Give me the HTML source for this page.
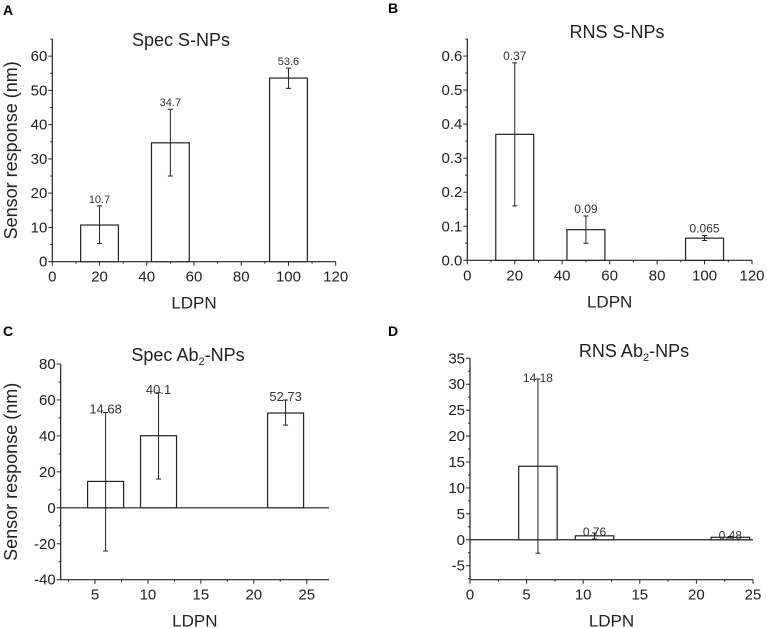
<!DOCTYPE html>
<html><head><meta charset="utf-8"><style>
html,body{margin:0;padding:0;background:#fff;}
svg{display:block;font-family:"Liberation Sans",Arial,sans-serif;}
</style></head><body>
<svg id="fig" width="767" height="628" viewBox="0 0 767 628"></svg>
<script>
// Panel A data
const aCats=[20,50,100];
const aVals=[10.7,34.7,53.6];
const aLo=[5.3,25,50.6];
const aHi=[16.3,44.5,56.5];
const aLabels=["10.7","34.7","53.6"];
const aTicks=[0,10,20,30,40,50,60];
const aXTicks=[0,20,40,60,80,100,120];
// Panel B data
const bCats=[20,50,100];
const bVals=[0.37,0.09,0.065];
const bLo=[0.16,0.05,0.058];
const bHi=[0.58,0.13,0.073];
const bLabels=["0.37","0.09","0.065"];
const bTicks=[0,0.1,0.2,0.3,0.4,0.5,0.6];
const bXTicks=[0,20,40,60,80,100,120];
// Panel C data
const cCats=[6,11,23];
const cVals=[14.68,40.1,52.73];
const cLo=[-24,16,46];
const cHi=[53,64,60];
const cLabels=["14.68","40.1","52.73"];
const cTicks=[-40,-20,0,20,40,60,80];
const cXTicks=[5,10,15,20,25];
// Panel D data
const dCats=[6,11,23];
const dVals=[14.18,0.76,0.48];
const dLo=[-2.6,0.15,0.35];
const dHi=[31,1.3,0.62];
const dLabels=["14.18","0.76","0.48"];
const dTicks=[-5,0,5,10,15,20,25,30,35];
const dXTicks=[0,5,10,15,20,25];

const NS="http://www.w3.org/2000/svg";
const svg=document.getElementById('fig');
function mk(tag,attrs,parent){const e=document.createElementNS(NS,tag);for(const k in attrs)e.setAttribute(k,attrs[k]);(parent||svg).appendChild(e);return e;}

function panel(p){
  const g=mk('g',{});
  
  
  const X=v=>p.x0+(v-p.xmin)/(p.xmax-p.xmin)*(p.x1-p.x0);
  const Y=v=>p.y0-(v-p.ymin)/(p.ymax-p.ymin)*(p.y0-p.y1);
  const st={stroke:'#222','stroke-width':1.2,fill:'none'};
  const ya=mk('line',Object.assign({x1:p.x0,y1:p.y0,x2:p.x0,y2:p.y1},st),g);
  
  const xa=mk('line',Object.assign({x1:p.x0,y1:p.y0,x2:p.x1,y2:p.y0},st),g);
  
  if(p.ymin<0){
    const zl=mk('line',Object.assign({x1:p.x0,y1:Y(0),x2:p.x1,y2:Y(0)},st),g);
    
  }
  const ystep=p.yt[1]-p.yt[0];
  p.yt.forEach((t,i)=>{
    mk('line',{x1:p.x0-4,y1:Y(t),x2:p.x0,y2:Y(t),stroke:'#222','stroke-width':1},g);
    const tx=mk('text',{x:p.x0-5,y:Y(t)+5,'text-anchor':'end','font-size':15,fill:'#222'},g);
    tx.textContent=p.yfmt?p.yfmt(t):String(t);
    
    const m=t+ystep/2;
    if(m<=p.ymax+1e-9) mk('line',{x1:p.x0-2,y1:Y(m),x2:p.x0,y2:Y(m),stroke:'#222','stroke-width':1},g);
    if(i===0){const m2=t-ystep/2;if(m2>=p.ymin-1e-9)mk('line',{x1:p.x0-2,y1:Y(m2),x2:p.x0,y2:Y(m2),stroke:'#222','stroke-width':1},g);}
  });
  const xstep=p.xt[1]-p.xt[0];
  p.xt.forEach((t,i)=>{
    mk('line',{x1:X(t),y1:p.y0,x2:X(t),y2:p.y0+4,stroke:'#222','stroke-width':1},g);
    const tx=mk('text',{x:X(t),y:p.y0+20,'text-anchor':'middle','font-size':15,fill:'#222'},g);
    tx.textContent=String(t);
    
    const m=t+xstep/2;
    if(m<=p.xmax) mk('line',{x1:X(m),y1:p.y0,x2:X(m),y2:p.y0+2,stroke:'#222','stroke-width':1},g);
    if(i===0){const m2=t-xstep/2;if(m2>=p.xmin)mk('line',{x1:X(m2),y1:p.y0,x2:X(m2),y2:p.y0+2,stroke:'#222','stroke-width':1},g);}
  });
  p.cats.forEach((c,i)=>{
    const v=p.vals[i];
    const r=mk('rect',{x:X(c-p.bw/2),y:Math.min(Y(v),Y(0)),width:X(c+p.bw/2)-X(c-p.bw/2),height:Math.abs(Y(0)-Y(v)),fill:'#fff',stroke:'#222','stroke-width':1.2},g);
    
    const e=mk('path',{d:`M${X(c)} ${Y(p.lo[i])}V${Y(p.hi[i])}M${X(c)-2.5} ${Y(p.lo[i])}h5M${X(c)-2.5} ${Y(p.hi[i])}h5`,stroke:'#222','stroke-width':1,fill:'none'},g);
    
    const l=mk('text',{x:X(c),y:Y(p.hi[i])-p.lo_off,'text-anchor':'middle','font-size':p.lfs,fill:'#333'},g);
    l.textContent=p.labels[i];
    
  });
  const ti=mk('text',{x:p.tx,y:p.ty,'text-anchor':'middle','font-size':18,fill:'#222'},g);
  ti.innerHTML=p.title;
  
  const xl=mk('text',{x:(p.x0+p.x1)/2,y:p.y0+47,'text-anchor':'middle','font-size':17,fill:'#222'},g);
  xl.textContent='LDPN';
  
  if(p.ylab){
    const yl=mk('text',{x:0,y:0,'text-anchor':'middle','font-size':18,fill:'#222',transform:`translate(${p.ylx},${(p.y0+p.y1)/2}) rotate(-90)`},g);
    yl.textContent='Sensor response (nm)';
    
  }
  const pl=mk('text',{x:p.lx,y:p.ly,'font-size':14,'font-weight':'bold',fill:'#000'},g);
  pl.textContent=p.letter;
  
}

panel({name:'panel-a',letter:'A',lx:3,ly:15,x0:52.3,x1:335.7,xmin:0,xmax:120,y0:261.7,y1:39,ymin:0,ymax:65,
  cats:aCats,vals:aVals,lo:aLo,hi:aHi,labels:aLabels,yt:aTicks,xt:aXTicks,bw:16,lfs:11,lo_off:3,
  title:'Spec S-NPs',tx:181,ty:46,ylab:true,ylx:17});
panel({name:'panel-b',letter:'B',lx:388,ly:13,x0:467.3,x1:752,xmin:0,xmax:120,y0:260.3,y1:39,ymin:0,ymax:0.65,
  cats:bCats,vals:bVals,lo:bLo,hi:bHi,labels:bLabels,yt:bTicks,xt:bXTicks,bw:16,lfs:12,lo_off:3,
  yfmt:t=>t.toFixed(1),title:'RNS S-NPs',tx:617,ty:38,ylab:false});
panel({name:'panel-c',letter:'C',lx:3,ly:336,x0:60.7,x1:329,xmin:1.76,xmax:27.1,y0:579.7,y1:364,ymin:-40,ymax:80,
  cats:cCats,vals:cVals,lo:cLo,hi:cHi,labels:cLabels,yt:cTicks,xt:cXTicks,bw:3.4,lfs:13,lo_off:-1,
  title:'Spec Ab<tspan font-size="11" dy="4">2</tspan><tspan dy="-4">-NPs</tspan>',tx:188,ty:361,ylab:true,ylx:17});
panel({name:'panel-d',letter:'D',lx:388,ly:336,x0:470,x1:753,xmin:0,xmax:25,y0:579.7,y1:358.3,ymin:-7.7,ymax:35,
  cats:dCats,vals:dVals,lo:dLo,hi:dHi,labels:dLabels,yt:dTicks,xt:dXTicks,bw:3.4,lfs:12,lo_off:-3,
  title:'RNS Ab<tspan font-size="11" dy="4">2</tspan><tspan dy="-4">-NPs</tspan>',tx:634,ty:357,ylab:false});
</script>
</body></html>
